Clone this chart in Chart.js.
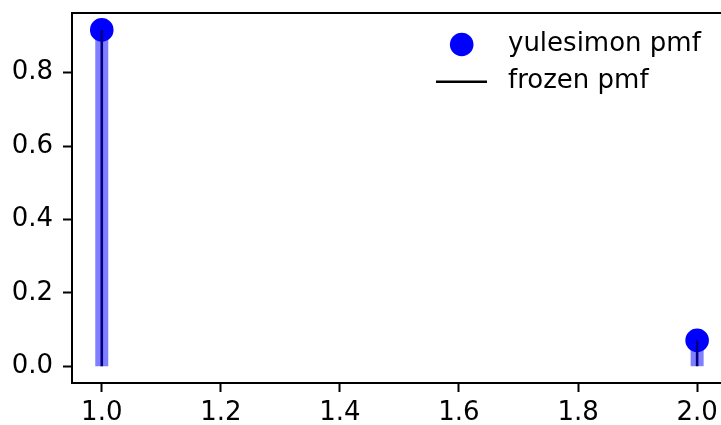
<!DOCTYPE html>
<html>
<head>
<meta charset="utf-8">
<script src="https://cdn.jsdelivr.net/npm/chart.js@4/dist/chart.umd.min.js"></script>
<style>
  html, body { margin: 0; padding: 0; background: #fff; overflow: hidden; }
  canvas { display: block; }
</style>
</head>
<body>
<canvas id="pmfChart" width="740" height="425"></canvas>
<script>
// yulesimon(alpha=11) pmf at k = 1, 2
const ks = [1, 2];
const pmf = [0.9167, 0.0705];
const frozenPmf = [0.9167, 0.0705];
const xTicks = [1.0, 1.2, 1.4, 1.6, 1.8, 2.0];
const yTicks = [0.0, 0.2, 0.4, 0.6, 0.8];
const legendLabels = ['yulesimon pmf', 'frozen pmf'];

const FONT = { family: 'DejaVu Sans', size: 26 };

function vline(x, y, color, width) {
    return {
        type: 'line',
        data: [{ x: x, y: 0 }, { x: x, y: y }],
        borderColor: color,
        borderWidth: width,
        borderCapStyle: 'butt',
        pointRadius: 0,
        fill: false
    };
}

const datasets = [];
ks.forEach((k, i) => datasets.push(vline(k, pmf[i], 'rgba(0,0,255,0.5)', 13)));
ks.forEach((k, i) => datasets.push(vline(k, frozenPmf[i], '#000', 2.6)));
datasets.push({
    type: 'scatter',
    data: ks.map((k, i) => ({ x: k, y: pmf[i] })),
    backgroundColor: '#0000ff',
    borderColor: '#0000ff',
    borderWidth: 2.6,
    pointRadius: 10.5,
    pointHoverRadius: 10.5
});

// top/right spines + legend drawn inside the axes (no frame)
const extras = {
    id: 'extras',
    afterDraw(chart) {
        const { ctx, chartArea: a } = chart;
        ctx.save();
        ctx.strokeStyle = '#000';
        ctx.lineWidth = 2;
        ctx.beginPath();
        ctx.moveTo(a.left, a.top);
        ctx.lineTo(a.right, a.top);
        ctx.lineTo(a.right, a.bottom);
        ctx.stroke();

        ctx.fillStyle = '#0000ff';
        ctx.beginPath();
        ctx.arc(461.7, 44.5, 11.8, 0, Math.PI * 2);
        ctx.fill();

        ctx.strokeStyle = '#000';
        ctx.lineWidth = 2.6;
        ctx.beginPath();
        ctx.moveTo(436, 81.7);
        ctx.lineTo(487, 81.7);
        ctx.stroke();

        ctx.fillStyle = '#000';
        ctx.font = FONT.size + 'px ' + FONT.family;
        ctx.textBaseline = 'middle';
        ctx.fillText(legendLabels[0], 508, 44.5);
        ctx.fillText(legendLabels[1], 508, 81.7);
        ctx.restore();
    }
};

new Chart(document.getElementById('pmfChart'), {
    data: { datasets: datasets },
    options: {
        responsive: false,
        animation: false,
        events: [],
        layout: { padding: { left: 0, top: 10, right: 13, bottom: 0 } },
        plugins: { legend: { display: false }, tooltip: { enabled: false } },
        scales: {
            x: {
                type: 'linear',
                min: 0.95,
                max: 2.05,
                afterBuildTicks: (s) => { s.ticks = xTicks.map(v => ({ value: v })); },
                afterFit: (s) => { s.height = 42; s.paddingLeft = 0; s.paddingRight = 0; },
                grid: { drawOnChartArea: false, drawTicks: true, tickLength: 9, tickColor: '#000', tickWidth: 2 },
                border: { display: true, color: '#000', width: 2 },
                ticks: { color: '#000', font: FONT, padding: 6, maxRotation: 0, callback: (v) => v.toFixed(1) }
            },
            y: {
                type: 'linear',
                min: -0.0458,
                max: 0.9625,
                afterBuildTicks: (s) => { s.ticks = yTicks.map(v => ({ value: v })); },
                afterFit: (s) => { s.width = 72; s.paddingTop = 0; s.paddingBottom = 0; },
                grid: { drawOnChartArea: false, drawTicks: true, tickLength: 9, tickColor: '#000', tickWidth: 2 },
                border: { display: true, color: '#000', width: 2 },
                ticks: { color: '#000', font: { family: FONT.family, size: FONT.size, lineHeight: 0.2 }, padding: 10, callback: (v) => v.toFixed(1) }
            }
        }
    },
    plugins: [extras]
});
</script>
</body>
</html>
